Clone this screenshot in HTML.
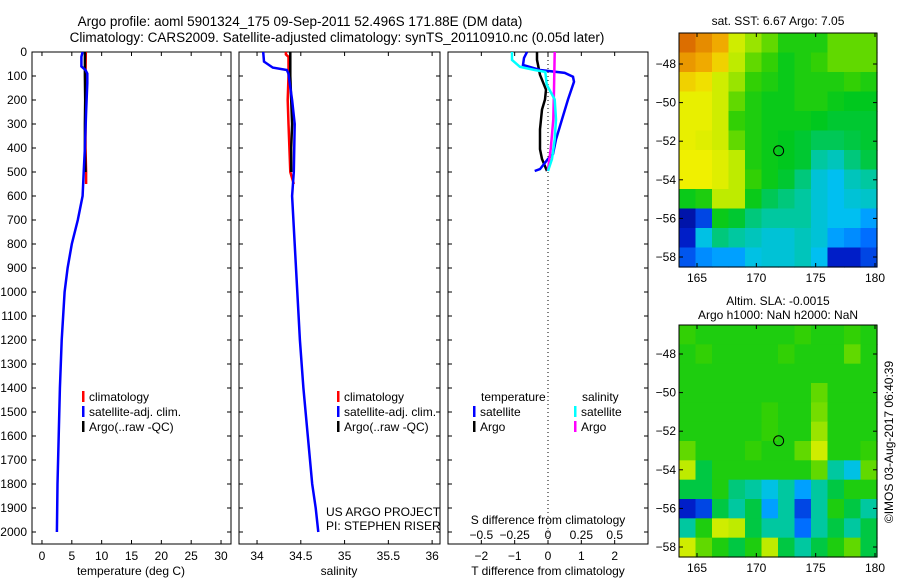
<!DOCTYPE html>
<html><head><meta charset="utf-8"><style>
body{margin:0;background:#fff;}
svg{display:block;font-family:"Liberation Sans",sans-serif;}
text{fill:#000;}
</style></head><body>
<svg id="c" width="900" height="580" viewBox="0 0 900 580" xmlns="http://www.w3.org/2000/svg">
<text x="300" y="26" font-size="13.5" text-anchor="middle">Argo profile: aoml 5901324_175 09-Sep-2011 52.496S 171.88E (DM data)</text>
<text x="337" y="42" font-size="13.5" text-anchor="middle">Climatology: CARS2009. Satellite-adjusted climatology: synTS_20110910.nc (0.05d later)</text>
<g id="g"></g>
</svg>
<script>
// ---- data ----
const depthTicks=[0,100,200,300,400,500,600,700,800,900,1000,1100,1200,1300,1400,1500,1600,1700,1800,1900,2000];
const tTicks=[0,5,10,15,20,25,30];
const sTicks=[34,34.5,35,35.5,36];
const dTTicks=[-2,-1,0,1,2];
const dSTicks=[-0.5,-0.25,0,0.25,0.5];
const dSTickLabels=["\u22120.5","\u22120.25","0","0.25","0.5"];
const dTTickLabels=["\u22122","\u22121","0","1","2"];
const tempClimD=[0,100,200,300,400,500,550];
const tempClimV=[7.35,7.3,7.3,7.3,7.3,7.4,7.4];
const tempArgoD=[0,100,200,300,400,500];
const tempArgoV=[7.2,7.2,7.25,7.2,7.2,7.3];
const tempSatD=[0,20,60,75,90,130,250,400,500,600,700,800,900,1000,1200,1400,1600,1800,2000];
const tempSatV=[6.8,6.6,6.6,7.3,7.6,7.6,7.4,7.2,7.0,6.8,6.0,5.0,4.3,3.8,3.3,3.0,2.8,2.6,2.5];
const salClimD=[0,10,20,100,200,300,400,500,550];
const salClimV=[34.33,34.33,34.36,34.36,34.35,34.36,34.37,34.38,34.42];
const salArgoD=[0,100,200,300,400,500];
const salArgoV=[34.38,34.38,34.39,34.4,34.39,34.39];
const salSatD=[0,40,65,75,90,120,200,300,500,600,800,1000,1200,1400,1600,1800,1900,2000];
const salSatV=[34.07,34.08,34.18,34.34,34.36,34.37,34.4,34.43,34.42,34.4,34.43,34.46,34.49,34.53,34.58,34.63,34.67,34.7];
const dTSatD=[0,25,54,75,87,103,124,198,281,364,425,446,488,496];
const dTSatV=[-0.63,-0.72,-0.75,-0.24,0.5,0.75,0.78,0.6,0.42,0.24,0.15,0,-0.24,-0.4];
const dTArgoD=[0,33,95,157,198,240,322,405,446,496];
const dTArgoV=[-0.33,-0.33,-0.24,-0.06,-0.09,-0.18,-0.24,-0.24,-0.18,-0.03];
const dSSatD=[0,33,62,75,83,136,198,281,364,446,496];
const dSSatV=[-0.27,-0.27,-0.21,-0.1,-0.02,-0.01,0.05,0.06,0.05,0.03,0];
const dSArgoD=[0,157,281,405,488,496];
const dSArgoV=[0.05,0.045,0.04,0.02,0,0];
const sstGrid=[
[.85,.8,.75,.62,.58,.55,.5,.5,.5,.55,.55,.55],
[.78,.75,.7,.6,.55,.52,.48,.5,.52,.55,.55,.55],
[.7,.68,.62,.58,.52,.5,.48,.5,.5,.5,.52,.5],
[.65,.65,.62,.55,.5,.48,.48,.5,.5,.48,.47,.47],
[.65,.65,.62,.52,.5,.48,.48,.48,.47,.46,.46,.46],
[.65,.64,.62,.55,.5,.48,.47,.46,.44,.44,.45,.46],
[.66,.66,.64,.6,.5,.48,.47,.46,.4,.38,.42,.45],
[.66,.66,.64,.6,.52,.48,.46,.42,.36,.34,.38,.4],
[.48,.5,.6,.6,.48,.44,.42,.4,.36,.34,.36,.37],
[.1,.2,.48,.46,.42,.4,.4,.4,.36,.34,.34,.3],
[.15,.35,.42,.4,.38,.36,.36,.38,.36,.3,.28,.25],
[.22,.28,.3,.3,.35,.36,.36,.38,.34,.15,.15,.2]];
const slaGrid=[
[.52,.5,.5,.5,.5,.5,.5,.52,.5,.5,.52,.5],
[.5,.52,.5,.5,.5,.5,.52,.5,.5,.5,.55,.5],
[.5,.5,.5,.5,.5,.5,.5,.5,.5,.5,.5,.5],
[.5,.5,.5,.5,.5,.5,.5,.5,.55,.5,.5,.5],
[.5,.5,.5,.5,.5,.52,.5,.5,.56,.5,.5,.5],
[.5,.5,.5,.5,.5,.52,.5,.5,.58,.5,.5,.5],
[.55,.5,.5,.5,.52,.5,.5,.55,.62,.5,.5,.52],
[.6,.45,.5,.5,.5,.5,.5,.5,.55,.4,.35,.55],
[.45,.45,.5,.42,.4,.35,.4,.3,.4,.45,.5,.5],
[.15,.2,.45,.4,.45,.3,.4,.2,.4,.5,.45,.4],
[.4,.5,.62,.6,.45,.4,.4,.25,.4,.45,.4,.45],
[.62,.55,.5,.45,.5,.6,.45,.4,.45,.5,.55,.45]];
const lonTicks=[165,170,175,180];
const latTicks=[-48,-50,-52,-54,-56,-58];
const argoLon=171.88, argoLat=-52.496;

// ---- drawing ----
const NS="http://www.w3.org/2000/svg";
const G=document.getElementById('g');
function el(tag,attrs,parent,txt){const e=document.createElementNS(NS,tag);for(const k in attrs)e.setAttribute(k,attrs[k]);if(txt!==undefined)e.textContent=txt;(parent||G).appendChild(e);return e;}
const Y0=52,Y1=544,DMAX=2050;
const yD=d=>Y0+d/DMAX*(Y1-Y0);
function lin(d0,d1,p0,p1){return v=>p0+(v-d0)/(d1-d0)*(p1-p0);}
const panels=[
 {x0:32,x1:231,sx:lin(-1.67,31.67,32,231),name:'temperature-panel'},
 {x0:239,x1:440,sx:lin(33.794,36.09,239,440),name:'salinity-panel'},
 {x0:448,x1:648,sx:lin(-3,3,448,648),name:'difference-panel'}];
const sxS=lin(-0.75,0.75,448,648);
panels.forEach((p,i)=>{
 const g=el('g',{});
 
 
 el('rect',{x:p.x0,y:Y0,width:p.x1-p.x0,height:Y1-Y0,fill:'none',stroke:'#000','stroke-width':1},g);
 depthTicks.forEach(d=>{const y=yD(d);
  el('line',{x1:p.x0,x2:p.x0+4,y1:y,y2:y,stroke:'#000'},g);
  el('line',{x1:p.x1-4,x2:p.x1,y1:y,y2:y,stroke:'#000'},g);
  if(i===0){const t=el('text',{x:27,y:y+4,'font-size':12,'text-anchor':'end'},g,String(d));
   }
 });
});
function xticks(p,ticks,labels,ly){ticks.forEach((v,k)=>{const x=p.sx(v);
 el('line',{x1:x,x2:x,y1:Y0,y2:Y0+4,stroke:'#000'});
 el('line',{x1:x,x2:x,y1:Y1-4,y2:Y1,stroke:'#000'});
 const t=el('text',{x:x,y:ly,'font-size':12,'text-anchor':'middle'},G,labels[k]);
 });}
xticks(panels[0],tTicks,tTicks.map(String),560);
xticks(panels[1],sTicks,sTicks.map(String),560);
xticks(panels[2],dTTicks,dTTickLabels,560);
dSTicks.forEach((v,k)=>{const t=el('text',{x:sxS(v),y:539,'font-size':12,'text-anchor':'middle'},G,dSTickLabels[k]);
 });
const z=el('line',{x1:panels[2].sx(0),x2:panels[2].sx(0),y1:Y0,y2:Y1,stroke:'#000','stroke-dasharray':'1,3'});

function prof(D,V,sx,color,name,w){const pts=D.map((d,k)=>sx(V[k]).toFixed(1)+','+yD(d).toFixed(1)).join(' ');
 const l=el('polyline',{points:pts,fill:'none',stroke:color,'stroke-width':w||2.5});
 }
prof(tempClimD,tempClimV,panels[0].sx,'#f00','temp-climatology-line');
prof(tempArgoD,tempArgoV,panels[0].sx,'#000','temp-argo-line');
prof(tempSatD,tempSatV,panels[0].sx,'#00f','temp-satellite-line');
prof(salClimD,salClimV,panels[1].sx,'#f00','sal-climatology-line');
prof(salArgoD,salArgoV,panels[1].sx,'#000','sal-argo-line');
prof(salSatD,salSatV,panels[1].sx,'#00f','sal-satellite-line');
prof(dTArgoD,dTArgoV,panels[2].sx,'#000','dt-argo-line');
prof(dTSatD,dTSatV,panels[2].sx,'#00f','dt-satellite-line');
prof(dSArgoD,dSArgoV,sxS,'#f0f','ds-argo-line');
prof(dSSatD,dSSatV,sxS,'#0ff','ds-satellite-line');
function leg(x,y,color,label){const g=el('g',{});
 el('rect',{x:x,y:y-10,width:2.5,height:11,fill:color},g);el('text',{x:x+7,y:y,'font-size':12},g,label);}
[82,337].forEach(x=>{leg(x,401,'#f00','climatology');leg(x,416,'#00f','satellite-adj. clim.');leg(x,431,'#000','Argo(..raw -QC)');});
el('text',{x:481,y:401,'font-size':12},G,'temperature');
el('text',{x:582,y:401,'font-size':12},G,'salinity');
leg(473,416,'#00f','satellite');leg(473,431,'#000','Argo');
leg(574,416,'#0ff','satellite');leg(574,431,'#f0f','Argo');
el('text',{x:326,y:516,'font-size':12},G,'US ARGO PROJECT');
el('text',{x:326,y:530,'font-size':12},G,'PI: STEPHEN RISER');
el('text',{x:548,y:524,'font-size':12,'text-anchor':'middle'},G,'S difference from climatology');
el('text',{x:131,y:575,'font-size':12,'text-anchor':'middle'},G,'temperature (deg C)');
el('text',{x:339,y:575,'font-size':12,'text-anchor':'middle'},G,'salinity');
el('text',{x:548,y:575,'font-size':12,'text-anchor':'middle'},G,'T difference from climatology');
// colormap (piecewise, matching reference palette)
const cmapStops=[[0,[0,0,110]],[0.15,[0,30,200]],[0.25,[0,110,255]],[0.33,[0,190,255]],[0.4,[0,200,160]],[0.47,[0,200,30]],[0.53,[60,210,0]],[0.6,[190,235,0]],[0.66,[240,240,0]],[0.75,[240,170,0]],[0.85,[220,110,0]],[1,[170,40,0]]];
function cmap(v){v=Math.max(0,Math.min(1,v));for(let i=1;i<cmapStops.length;i++){const [a,ca]=cmapStops[i-1],[b,cb]=cmapStops[i];if(v<=b){const t=(v-a)/(b-a);return 'rgb('+ca.map((c,k)=>Math.round(c+(cb[k]-c)*t)).join(',')+')';}}return 'rgb(170,40,0)';}
function map(x0,x1,y0,y1,lat48,lat58,grid,name,title1,title2){
 const g=el('g',{});
 const sx=lin(165,180,697,875), sy=lin(-48,-58,lat48,lat58);
 const rows=grid.length,cols=grid[0].length,cw=(x1-x0)/cols,ch=(y1-y0)/rows;
 grid.forEach((r,i)=>r.forEach((v,j)=>{const c=el('rect',{x:x0+j*cw,y:y0+i*ch,width:cw+0.6,height:ch+0.6,fill:cmap(v)},g);
  }));
 el('rect',{x:x0,y:y0,width:x1-x0,height:y1-y0,fill:'none',stroke:'#000'},g);
 lonTicks.forEach(l=>{const x=sx(l);el('line',{x1:x,x2:x,y1:y0,y2:y0+4,stroke:'#000'},g);el('line',{x1:x,x2:x,y1:y1-4,y2:y1,stroke:'#000'},g);
  el('text',{x:x,y:y1+15,'font-size':12,'text-anchor':'middle'},g,String(l));});
 latTicks.forEach(l=>{const y=sy(l);el('line',{x1:x0,x2:x0+4,y1:y,y2:y,stroke:'#000'},g);el('line',{x1:x1-4,x2:x1,y1:y,y2:y,stroke:'#000'},g);
  el('text',{x:x0-3,y:y+4,'font-size':12,'text-anchor':'end'},g,'\u2212'+String(-l));});
 el('circle',{cx:sx(argoLon),cy:sy(argoLat),r:5,fill:'none',stroke:'#000'},g);
 if(title2){el('text',{x:778,y:y0-20,'font-size':12,'text-anchor':'middle'},g,title1);el('text',{x:778,y:y0-6,'font-size':12,'text-anchor':'middle'},g,title2);}
 else el('text',{x:778,y:y0-8,'font-size':12,'text-anchor':'middle'},g,title1);
}
map(679,877,33,267,64,257,sstGrid,'sst-map','sat. SST: 6.67 Argo: 7.05');
map(679,877,325,557,354,547,slaGrid,'sla-map','Altim. SLA: -0.0015','Argo h1000: NaN h2000: NaN');
const cp=el('text',{x:0,y:0,'font-size':12,'text-anchor':'middle',transform:'translate(893,442) rotate(-90)'},G,'\u00a9IMOS 03-Aug-2017 06:40:39');

</script>
</body></html>
